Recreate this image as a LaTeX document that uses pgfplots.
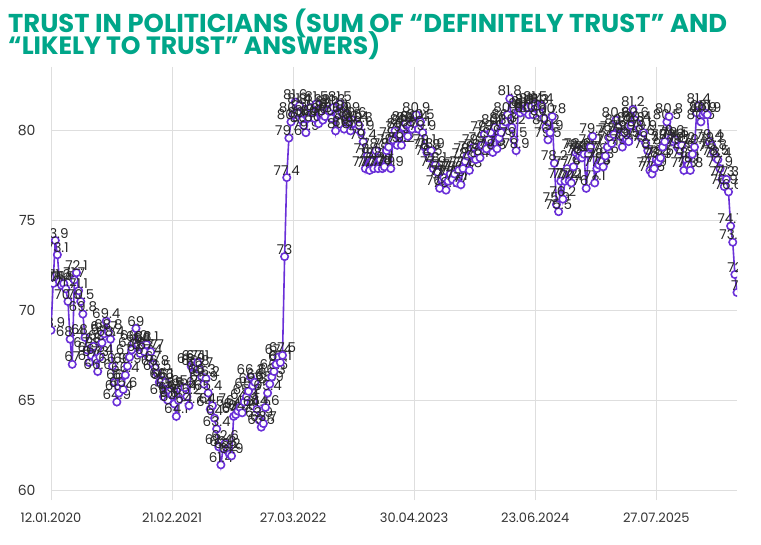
\documentclass[border=0pt]{standalone}
\usepackage{fontspec}
\setmainfont{Poppins}
\usepackage{pgfplots}
\pgfplotsset{compat=1.18}
\usepackage{pgfplotstable}
\definecolor{teal1}{RGB}{0,166,137}
\definecolor{purp}{RGB}{106,48,216}
\definecolor{gridc}{RGB}{222,222,222}
\pgfplotstableread{
y
68.9
71.5
73.9
73.1
71.6
71.4
71.5
71.2
70.5
68.4
67.0
71.7
72.1
71.1
70.5
69.8
68.5
67.8
67.1
67.5
68.0
67.3
66.6
67.4
68.2
68.7
69.4
68.8
68.4
66.9
66.0
64.9
65.4
66.0
65.6
66.4
66.9
67.4
67.8
68.2
69.0
68.1
67.6
68.0
67.7
68.1
67.4
67.7
67.0
66.8
66.5
66.0
66.1
65.2
66.0
65.0
65.5
65.3
64.8
64.1
65.0
65.6
65.4
65.7
65.2
64.7
66.9
67.1
66.8
67.1
66.7
66.3
65.9
66.2
65.4
64.5
64.7
64.0
63.4
62.4
61.4
62.3
62.6
62.2
62.0
61.9
64.1
64.2
64.4
64.6
64.3
64.9
65.2
65.5
66.3
65.8
66.0
64.5
63.9
63.5
63.7
64.6
65.4
65.9
66.3
66.6
67.0
67.4
67.1
67.5
73.0
77.4
79.6
80.5
80.9
81.6
81.0
81.4
80.6
80.3
79.9
80.7
81.3
81.0
80.7
81.5
80.4
81.0
80.6
80.8
81.2
81.1
80.7
81.3
80.0
80.9
81.5
81.0
80.1
80.9
80.5
80.0
80.6
80.4
80.1
80.3
79.9
79.4
77.9
78.6
77.8
78.3
77.9
78.9
77.9
78.4
77.9
78.0
78.9
79.1
77.9
79.5
80.0
79.2
79.8
79.2
80.2
80.4
79.7
80.3
80.1
80.4
80.9
80.1
80.5
79.9
79.1
78.8
78.5
78.9
77.9
78.1
77.7
76.8
77.3
77.4
76.7
77.2
77.6
77.3
77.6
77.1
77.8
77.0
77.9
78.3
78.6
77.8
78.7
79.1
78.4
78.8
78.5
79.2
79.8
79.0
79.5
79.9
78.8
80.2
79.0
79.6
79.9
80.3
80.5
80.9
81.8
80.2
79.5
78.9
81.1
81.0
81.2
81.1
81.3
80.9
81.4
80.9
81.5
81.3
81.0
81.4
80.7
80.2
79.5
79.9
80.8
78.2
75.9
75.5
77.2
76.2
77.2
77.9
77.2
77.1
78.0
78.8
78.9
78.6
78.5
78.7
76.8
78.7
79.1
79.7
77.1
77.9
78.1
78.3
78.0
78.6
79.1
79.6
79.3
79.8
80.6
80.2
79.7
79.1
79.9
79.5
79.4
80.3
81.2
80.6
80.4
80.1
79.6
79.9
79.3
78.9
77.8
77.6
77.9
78.4
78.3
78.5
79.1
79.4
80.5
80.8
79.6
79.4
79.5
79.1
78.9
79.2
77.8
78.4
78.1
77.8
78.7
79.1
81.0
81.4
80.5
80.9
81.0
80.9
79.4
79.2
78.8
78.5
78.4
77.9
77.3
76.9
77.3
76.6
74.7
73.8
72.0
71.0
}\data

\begin{document}
\begin{tikzpicture}[x=1pt,y=1pt]
\begin{axis}[
  at={(51pt,54pt)}, anchor=south west,
  scale only axis, width=686pt, height=413pt,
  xmin=0, xmax=323, ymin=60, ymax=83,
  axis line style={draw=none},
  xtick={0,57,114,171,228,285},
  xticklabels={12.01.2020,21.02.2021,27.03.2022,30.04.2023,23.06.2024,27.07.2025},
  ytick={60,65,70,75,80},
  grid=major,
  major grid style={gridc, line width=0.8pt},
  xtick style={draw=gridc, line width=0.8pt},
  ytick style={draw=none},
  tick align=outside, major tick length=10pt,
  ticklabel style={font=\fontsize{13}{13}\selectfont, text=black!80},
  xticklabel style={yshift=-9pt},
  yticklabel style={font=\fontsize{14}{14}\selectfont, xshift=-2pt},
  /pgf/number format/assume math mode=true,
  clip marker paths=true,
]
\addplot[purp, line width=1.6pt, mark=*, mark size=3.7pt,
  mark options={fill=white, draw=purp, line width=1.6pt},
  nodes near coords,
  every node near coord/.style={font=\fontsize{13.5}{13.5}\selectfont, text=black!85, anchor=south, inner sep=1.5pt}]
  table[x expr=\coordindex, y=y]{\data};
\end{axis}
\pgfresetboundingbox
\useasboundingbox (0,0) rectangle (761,544);
\node[anchor=base west,inner sep=0,text=teal1,font=\bfseries] at (8,511) {\resizebox{719pt}{!}{TRUST IN POLITICIANS (SUM OF “DEFINITELY TRUST” AND}};
\node[anchor=base west,inner sep=0,text=teal1,font=\bfseries] at (8,489) {\resizebox{372pt}{!}{“LIKELY TO TRUST” ANSWERS)}};
\end{tikzpicture}
\end{document}
